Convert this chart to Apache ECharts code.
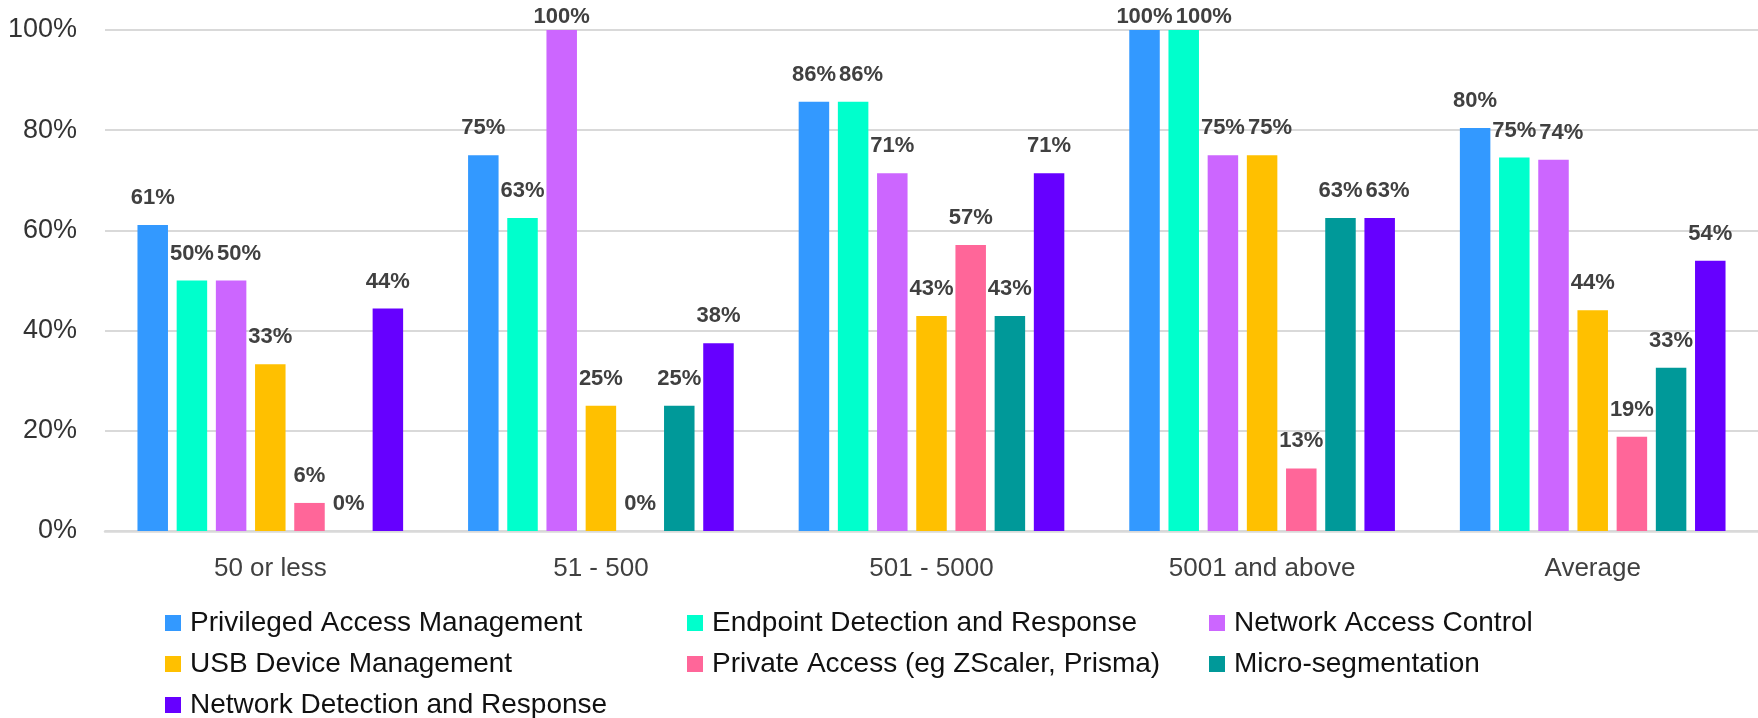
<!DOCTYPE html>
<html>
<head>
<meta charset="utf-8">
<script src="https://cdn.jsdelivr.net/npm/echarts@6/dist/echarts.min.js"></script>
<style>
html,body{margin:0;padding:0;background:#fff;}
#chart{width:1758px;height:718px;}
</style>
</head>
<body>
<div id="chart"></div>
<script>
const categories = ['50 or less', '51 - 500', '501 - 5000', '5001 and above', 'Average'];
const seriesNames = [
  'Privileged Access Management',
  'Endpoint Detection and Response',
  'Network Access Control',
  'USB Device Management',
  'Private Access (eg ZScaler, Prisma)',
  'Micro-segmentation',
  'Network Detection and Response'
];
const pamValues = [61.1, 75, 85.7, 100, 80.45];
const edrValues = [50, 62.5, 85.7, 100, 74.55];
const nacValues = [50, 100, 71.4, 75, 74.1];
const usbValues = [33.3, 25, 42.9, 75, 44.05];
const privateAccessValues = [5.6, 0, 57.1, 12.5, 18.8];
const microSegValues = [0, 25, 42.9, 62.5, 32.6];
const ndrValues = [44.4, 37.5, 71.4, 62.5, 53.95];
const yTicks = [0, 20, 40, 60, 80, 100];

const colors = ['#3399FF', '#00FFCC', '#CC66FF', '#FFC000', '#FF6699', '#009999', '#6600FF'];
const allValues = [pamValues, edrValues, nacValues, usbValues, privateAccessValues, microSegValues, ndrValues];
const FONT = 'Liberation Sans';

// push overlapping data labels of the same category apart (as the original does)
let placed = {};
function labelLayout(p) {
  if (p.seriesIndex === 0 && p.dataIndex === 0) placed = {};
  const r = p.labelRect;
  const list = placed[p.dataIndex] || (placed[p.dataIndex] = []);
  let dx = 0;
  for (const q of list) {
    const x = r.x + dx;
    if (x < q.x + q.width + 3 && x + r.width > q.x && r.y < q.y + q.height && r.y + r.height > q.y) {
      dx = q.x + q.width + 3 - r.x;
    }
  }
  list.push({ x: r.x + dx, y: r.y, width: r.width, height: r.height });
  return { dx: dx };
}

const series = seriesNames.map((name, i) => ({
  name: name,
  type: 'bar',
  data: allValues[i].map(v => v >= 100 ? { value: v, label: { distance: 2 } } : v),
  barWidth: 30.5,
  barGap: '28.5%',
  itemStyle: { color: colors[i] },
  labelLayout: labelLayout,
  label: {
    show: true,
    position: 'top',
    distance: 16,
    fontFamily: FONT,
    fontWeight: 'bold',
    fontSize: 22,
    color: '#404040',
    formatter: p => Math.round(p.value) + '%'
  }
}));

const legendCommon = {
  orient: 'vertical',
  itemWidth: 16,
  itemHeight: 16,
  itemGap: 11,
  icon: 'rect',
  top: 608,
  height: 200,
  padding: 0,
  textStyle: { fontFamily: FONT, fontSize: 28, lineHeight: 30, color: '#111', padding: [0, 0, 0, 4] },
  selectedMode: false
};

const chart = echarts.init(document.getElementById('chart'), null, { renderer: 'canvas' });
chart.setOption({
  animation: false,
  backgroundColor: '#fff',
  grid: { left: 105, right: -7, top: 30, bottom: 187, containLabel: false },
  legend: [
    Object.assign({}, legendCommon, { left: 165, data: [seriesNames[0], seriesNames[3], seriesNames[6]] }),
    Object.assign({}, legendCommon, { left: 687, data: [seriesNames[1], seriesNames[4]] }),
    Object.assign({}, legendCommon, { left: 1209, data: [seriesNames[2], seriesNames[5]] })
  ],
  xAxis: {
    type: 'category',
    data: categories,
    axisTick: { show: false },
    axisLine: { lineStyle: { color: '#d9d9d9', width: 2.5 } },
    axisLabel: { fontFamily: FONT, fontSize: 26, color: '#404040', margin: 25 }
  },
  yAxis: {
    type: 'value',
    min: yTicks[0],
    max: yTicks[yTicks.length - 1],
    interval: yTicks[1] - yTicks[0],
    axisLine: { show: false },
    axisTick: { show: false },
    splitLine: { lineStyle: { color: '#d9d9d9', width: 2 } },
    axisLabel: { fontFamily: FONT, fontSize: 27, color: '#333', margin: 28, formatter: '{value}%' }
  },
  series: series
});
</script>
</body>
</html>
